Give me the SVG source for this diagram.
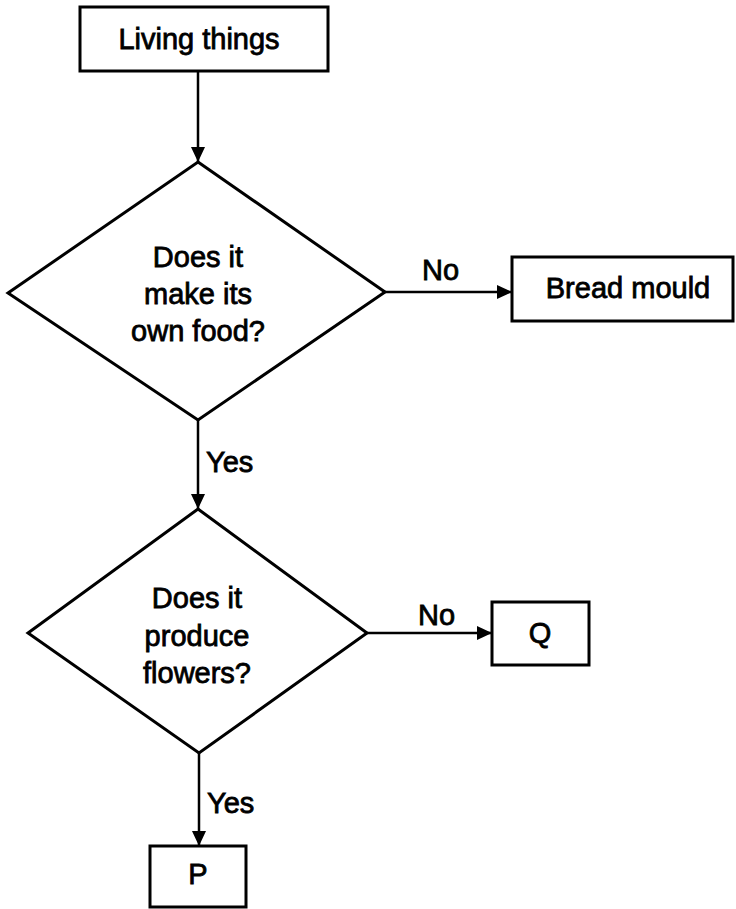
<svg xmlns="http://www.w3.org/2000/svg" width="736" height="909" viewBox="0 0 736 909">
<style>
.box{fill:#fff;stroke:#000;stroke-width:3}
.dia{fill:#fff;stroke:#000;stroke-width:3;stroke-linejoin:miter}
.t{font-family:"Liberation Sans",Arial,sans-serif;font-size:29px;font-weight:normal;fill:#000;stroke:#000;stroke-width:0.8;text-anchor:middle}
.lb{font-family:"Liberation Sans",Arial,sans-serif;font-size:29px;font-weight:normal;fill:#000;stroke:#000;stroke-width:0.8}
.c{fill:none;stroke:#000;stroke-width:2.5}
</style>
<defs>
<marker id="ah" markerUnits="userSpaceOnUse" markerWidth="16" markerHeight="16" refX="15" refY="7" orient="auto">
<path d="M0,0 L15,7 L0,14 z" fill="#000"/>
</marker>
</defs>
<rect width="736" height="909" fill="#fff"/>
<g id="connectors">
<line class="c" x1="198" y1="71" x2="198" y2="162" marker-end="url(#ah)"/>
<line class="c" x1="385" y1="292" x2="512" y2="292" marker-end="url(#ah)"/>
<text class="lb" x="422" y="280">No</text>
<line class="c" x1="198" y1="420" x2="198" y2="509" marker-end="url(#ah)"/>
<text class="lb" x="206" y="472">Yes</text>
<line class="c" x1="367" y1="633" x2="492" y2="633" marker-end="url(#ah)"/>
<text class="lb" x="418" y="625">No</text>
<line class="c" x1="199" y1="753" x2="199" y2="846" marker-end="url(#ah)"/>
<text class="lb" x="207" y="813">Yes</text>
</g>
<g id="living-things">
<rect class="box" x="80" y="7" width="248" height="64"/>
<text class="t" x="199" y="49">Living things</text>
</g>
<g id="decision-food">
<polygon class="dia" points="198,162 385,292 198,420 8,293"/>
<text class="t" x="198" y="267">Does it</text>
<text class="t" x="198" y="304">make its</text>
<text class="t" x="198" y="341">own food?</text>
</g>
<g id="bread-mould">
<rect class="box" x="512" y="257" width="221" height="64"/>
<text class="t" x="628" y="298">Bread mould</text>
</g>
<g id="decision-flowers">
<polygon class="dia" points="198,509 367,633 199,753 28,633"/>
<text class="t" x="197" y="608">Does it</text>
<text class="t" x="197" y="646">produce</text>
<text class="t" x="197" y="683">flowers?</text>
</g>
<g id="q">
<rect class="box" x="492" y="602" width="97" height="63"/>
<text class="t" x="540" y="643">Q</text>
</g>
<g id="p">
<rect class="box" x="150" y="846" width="96" height="61"/>
<text class="t" x="198" y="884">P</text>
</g>
</svg>
